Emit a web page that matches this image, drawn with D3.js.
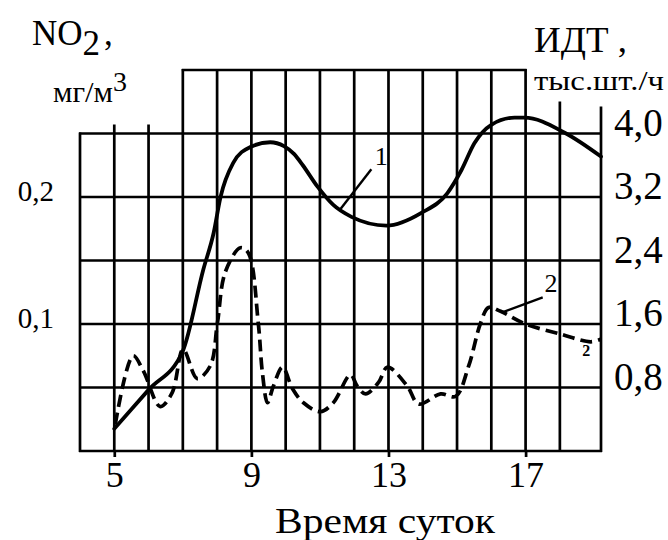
<!DOCTYPE html>
<html>
<head>
<meta charset="utf-8">
<script src="https://cdn.jsdelivr.net/npm/d3@7"></script>
<style>
  html, body { margin: 0; padding: 0; background: #fff; }
  svg text { font-family: "Liberation Serif", "Times New Roman", "DejaVu Serif", serif; fill: #000; }
</style>
</head>
<body>
<svg id="chart" width="668" height="540"></svg>
<script>
// Hours of the day shown on the horizontal axis
const hourTicks = [5, 9, 13, 17];
const gridHours = [4, 5, 6, 7, 8, 9, 10, 11, 12, 13, 14, 15, 16, 17, 18, 19.2];

// Right axis: traffic intensity (ИДТ), thousand vehicles per hour
const idtTicks = [0.8, 1.6, 2.4, 3.2, 4.0];
// Left axis: NO2 concentration, mg/m3
const no2Ticks = [0.1, 0.2];

// Curve 1 — traffic intensity (hour, thousand veh/h)
const idtHours  = [5.0, 6.0, 7.0, 7.6, 7.9, 8.1, 8.47, 8.97, 9.55, 9.95, 10.25, 10.5, 10.93, 11.39, 11.92, 12.94, 13.96, 14.72, 15.13, 15.51, 16.0, 16.68, 16.97, 18.14, 19.2];
const idtValues = [0.28, 0.77, 1.26, 2.29, 2.75, 3.2, 3.63, 3.83, 3.89, 3.84, 3.74, 3.60, 3.33, 3.10, 2.95, 2.84, 3.00, 3.25, 3.54, 3.88, 4.11, 4.20, 4.20, 4.01, 3.71];

// Curve 2 — NO2 concentration (hour, mg/m3)
const no2Hours  = [5.03, 5.55, 5.85, 6.34, 6.69, 7.01, 7.42, 7.80, 8.01, 8.24, 8.68, 8.91, 9.20, 9.32, 9.47, 9.64, 9.91, 10.20, 10.52, 11.01, 11.39, 11.89, 12.09, 12.33, 12.71, 12.97, 13.55, 13.88, 14.52, 14.96, 15.34, 15.69, 15.92, 16.27, 17.0, 18.02, 18.9, 19.19];
const no2Values = [0.021, 0.075, 0.063, 0.035, 0.046, 0.080, 0.057, 0.067, 0.101, 0.141, 0.160, 0.156, 0.101, 0.062, 0.038, 0.051, 0.066, 0.049, 0.038, 0.031, 0.038, 0.060, 0.051, 0.045, 0.054, 0.066, 0.051, 0.037, 0.045, 0.043, 0.067, 0.101, 0.113, 0.110, 0.100, 0.092, 0.086, 0.088];

const svg = d3.select("#chart");

const x  = d3.scaleLinear().domain([4, 19.2]).range([80, 601]);
const yR = d3.scaleLinear().domain([0, 4.8]).range([451, 70]);
const yL = d3.scaleLinear().domain([0, 0.3]).range([451, 70]);

const comma = f => d => d3.format(f)(d).replace(".", ",");

// ---- grid ----
const grid = svg.append("g").attr("stroke", "#000").attr("stroke-width", 2.7).attr("fill", "none");

// horizontal rules
[0, ...idtTicks].forEach(v => {
  grid.append("line")
    .attr("x1", x(4) - 1).attr("x2", x(19.2) + 1)
    .attr("y1", yR(v)).attr("y2", yR(v));
});
grid.append("line")
  .attr("x1", x(7) - 1).attr("x2", x(17) + 1)
  .attr("y1", yR(4.8)).attr("y2", yR(4.8));

// vertical rules with their individual upper ends
function topOf(h) {
  if (h === 4) return yR(4.0) - 1;
  if (h < 7) return yR(4.0) - 9;
  if (h <= 17) return yR(4.8) - 1;
  if (h === 18) return yR(4.0) - 32;
  return yR(4.0) - 27;
}
gridHours.forEach(h => {
  grid.append("line")
    .attr("x1", x(h)).attr("x2", x(h))
    .attr("y1", yR(0) + 1).attr("y2", topOf(h));
});

// ---- axes ----
const serif = "Liberation Serif, Times New Roman, serif";

const xAxis = svg.append("g")
  .attr("transform", `translate(0,${yR(0)})`)
  .call(d3.axisBottom(x).tickValues(hourTicks).tickSize(6).tickPadding(4).tickFormat(d3.format("d")));
xAxis.select(".domain").remove();
xAxis.selectAll(".tick line").attr("stroke", "#000").attr("stroke-width", 2.7);
xAxis.selectAll("text").attr("font-size", 36).attr("font-family", serif);

const rAxis = svg.append("g")
  .attr("transform", `translate(${x(19.2)},0)`)
  .call(d3.axisRight(yR).tickValues(idtTicks).tickSize(0).tickPadding(13).tickFormat(comma(".1f")));
rAxis.select(".domain").remove();
rAxis.selectAll("text").attr("font-size", 39).attr("font-family", serif).attr("dy", "0.05em");

const lAxis = svg.append("g")
  .attr("transform", `translate(${x(4)},0)`)
  .call(d3.axisLeft(yL).tickValues(no2Ticks).tickSize(0).tickPadding(26).tickFormat(comma(".1f")));
lAxis.select(".domain").remove();
lAxis.selectAll("text").attr("font-size", 29).attr("font-family", serif).attr("dy", "0.12em");

// ---- curves ----
const idtData = idtHours.map((h, i) => [h, idtValues[i]]);
const no2Data = no2Hours.map((h, i) => [h, no2Values[i]]);

svg.append("path")
  .datum(idtData)
  .attr("fill", "none").attr("stroke", "#000").attr("stroke-width", 3.8)
  .attr("stroke-linejoin", "round").attr("stroke-linecap", "round")
  .attr("d", d3.line().x(d => x(d[0])).y(d => yR(d[1])).curve(d3.curveMonotoneX));

svg.append("path")
  .datum(no2Data)
  .attr("fill", "none").attr("stroke", "#000").attr("stroke-width", 3.7)
  .attr("stroke-dasharray", "12,6")
  .attr("d", d3.line().x(d => x(d[0])).y(d => yL(d[1])).curve(d3.curveCatmullRom.alpha(0.5)));

// ---- curve labels with leader lines ----
const lead = svg.append("g").attr("stroke", "#000").attr("stroke-width", 2.4);
lead.append("line").attr("x1", x(11.6)).attr("y1", yR(3.05)).attr("x2", x(12.5)).attr("y2", yR(3.55));
svg.append("text").attr("x", x(12.6)).attr("y", yR(3.6)).attr("font-size", 26).text("1");

lead.append("line").attr("x1", x(16.3)).attr("y1", yL(0.109)).attr("x2", x(17.5)).attr("y2", yL(0.121));
svg.append("text").attr("x", x(17.55)).attr("y", yL(0.125)).attr("font-size", 26).text("2");
svg.append("text").attr("x", x(18.65)).attr("y", yL(0.075)).attr("font-size", 16).attr("font-weight", "bold").text("2");

// ---- axis titles ----
const t1 = svg.append("text").attr("x", 32).attr("y", 45).attr("font-size", 35);
t1.append("tspan").text("NO");
t1.append("tspan").attr("dy", 10).text("2");
t1.append("tspan").attr("dx", 4).attr("dy", -10).text(",");

const t2 = svg.append("text").attr("x", 53).attr("y", 102).attr("font-size", 30);
t2.append("tspan").attr("textLength", 60).attr("lengthAdjust", "spacingAndGlyphs").text("мг/м");
t2.append("tspan").attr("dy", -11).attr("font-size", 28).text("3");

svg.append("text").attr("x", 534).attr("y", 52).attr("font-size", 36)
  .attr("textLength", 93).attr("lengthAdjust", "spacingAndGlyphs").text("ИДТ ,");
svg.append("text").attr("x", 534).attr("y", 90).attr("font-size", 27)
  .attr("textLength", 130).attr("lengthAdjust", "spacingAndGlyphs").text("тыс.шт./ч");

svg.append("text").attr("x", 275).attr("y", 533).attr("font-size", 36)
  .attr("textLength", 220).attr("lengthAdjust", "spacingAndGlyphs").text("Время суток");
</script>
</body>
</html>
